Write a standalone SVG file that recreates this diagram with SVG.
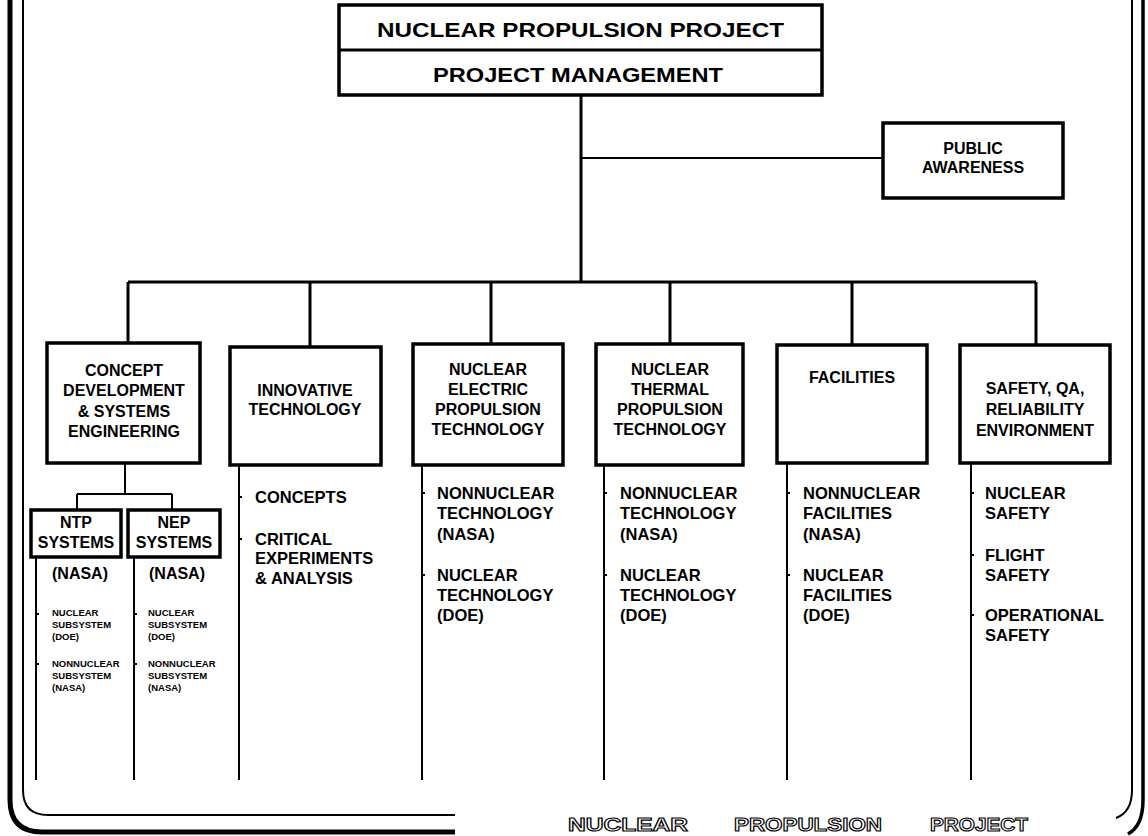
<svg xmlns="http://www.w3.org/2000/svg" width="1148" height="836" viewBox="0 0 1148 836">
<style>
.t{font-family:"Liberation Sans",Arial,Helvetica,sans-serif;font-weight:bold;fill:#000}
.bx{font-size:16px;text-anchor:middle}
.it{font-size:16.5px}
.tiny{font-size:9.5px}
.box{fill:#fff;stroke:#000;stroke-width:3.5}
.ln{fill:none;stroke:#000;stroke-width:3}
.sl{fill:none;stroke:#000;stroke-width:2}
.ft{font-family:"Liberation Sans",Arial,sans-serif;font-weight:bold;font-size:19px;fill:#fff;stroke:#000;stroke-width:1.1}
</style>
<rect width="1148" height="836" fill="#fff"/>
<g id="frame" fill="none" stroke="#000">
<path d="M10 0 V800 Q10 832 42 832 H455" stroke-width="5"/>
<path d="M23 0 V790 Q23 815 48 815 H455" stroke-width="2"/>
<path d="M1132 0 V790 Q1132 812 1116 818" stroke-width="2"/>
<path d="M1143 0 V800 Q1143 826 1128 834" stroke-width="3.5"/>
</g>
<g id="connectors">
<path class="ln" d="M581 95 V282"/>
<path class="sl" d="M581 158 H883"/>
<path class="ln" d="M128 282 H1036 M128 282 V343 M310 282 V347 M491 282 V344 M670 282 V344 M852 282 V345 M1036 282 V345"/>
<path class="sl" d="M125 463 V494 M77 494 H172 M77 494 V510 M172 494 V510"/>
<path class="sl" d="M36 557 V780 M134 557 V780 M239 465 V780 M422 465 V780 M604 465 V780 M787 463 V780 M971 463 V780"/>
<path class="sl" d="M36 614 h3 M36 664 h3 M134 614 h3 M134 664 h3 M239 497 h3 M239 539 h3 M422 493 h3 M422 575 h3 M604 493 h3 M604 575 h3 M787 493 h3 M787 575 h3 M971 493 h3 M971 555 h3 M971 615 h3"/>
</g>
<g id="n-top">
<rect class="box" x="339" y="5" width="483" height="90"/>
<path class="ln" d="M339 50 H822"/>
<text class="t" x="377" y="37" font-size="21" textLength="407" lengthAdjust="spacingAndGlyphs">NUCLEAR PROPULSION PROJECT</text>
<text class="t" x="433" y="82" font-size="21" textLength="290" lengthAdjust="spacingAndGlyphs">PROJECT MANAGEMENT</text>
</g>
<g id="n-public">
<rect class="box" x="883" y="123" width="180" height="75" stroke-width="3"/>
<text class="t bx" x="973" y="154" font-size="15">PUBLIC</text>
<text class="t bx" x="973" y="173" font-size="15">AWARENESS</text>
</g>
<g id="n-concept">
<rect class="box" x="47" y="343" width="153" height="120"/>
<text class="t bx" x="124" y="376">CONCEPT</text>
<text class="t bx" x="124" y="396">DEVELOPMENT</text>
<text class="t bx" x="124" y="417">&amp; SYSTEMS</text>
<text class="t bx" x="124" y="437">ENGINEERING</text>
</g>
<g id="n-ntp">
<rect class="box" x="31" y="510" width="90" height="47" stroke-width="3"/>
<text class="t bx" x="76" y="528" font-size="16.5">NTP</text>
<text class="t bx" x="76" y="548" font-size="16.5">SYSTEMS</text>
<text class="t bx" x="80" y="579" font-size="16.5">(NASA)</text>
<text class="t tiny" x="52" y="616">NUCLEAR</text>
<text class="t tiny" x="52" y="628">SUBSYSTEM</text>
<text class="t tiny" x="52" y="640">(DOE)</text>
<text class="t tiny" x="52" y="667">NONNUCLEAR</text>
<text class="t tiny" x="52" y="679">SUBSYSTEM</text>
<text class="t tiny" x="52" y="691">(NASA)</text>
</g>
<g id="n-nep">
<rect class="box" x="128" y="510" width="92" height="47" stroke-width="3"/>
<text class="t bx" x="174" y="528" font-size="16.5">NEP</text>
<text class="t bx" x="174" y="548" font-size="16.5">SYSTEMS</text>
<text class="t bx" x="177" y="579" font-size="16.5">(NASA)</text>
<text class="t tiny" x="148" y="616">NUCLEAR</text>
<text class="t tiny" x="148" y="628">SUBSYSTEM</text>
<text class="t tiny" x="148" y="640">(DOE)</text>
<text class="t tiny" x="148" y="667">NONNUCLEAR</text>
<text class="t tiny" x="148" y="679">SUBSYSTEM</text>
<text class="t tiny" x="148" y="691">(NASA)</text>
</g>
<g id="n-innovative">
<rect class="box" x="230" y="347" width="151" height="118"/>
<text class="t bx" x="305" y="396">INNOVATIVE</text>
<text class="t bx" x="305" y="415">TECHNOLOGY</text>
<text class="t it" x="255" y="503">CONCEPTS</text>
<text class="t it" x="255" y="545">CRITICAL</text>
<text class="t it" x="255" y="564">EXPERIMENTS</text>
<text class="t it" x="255" y="584">&amp; ANALYSIS</text>
</g>
<g id="n-nep-tech">
<rect class="box" x="413" y="344" width="150" height="121"/>
<text class="t bx" x="488" y="375">NUCLEAR</text>
<text class="t bx" x="488" y="395">ELECTRIC</text>
<text class="t bx" x="488" y="415">PROPULSION</text>
<text class="t bx" x="488" y="435">TECHNOLOGY</text>
<text class="t it" x="437" y="499">NONNUCLEAR</text>
<text class="t it" x="437" y="519">TECHNOLOGY</text>
<text class="t it" x="437" y="540">(NASA)</text>
<text class="t it" x="437" y="581">NUCLEAR</text>
<text class="t it" x="437" y="601">TECHNOLOGY</text>
<text class="t it" x="437" y="621">(DOE)</text>
</g>
<g id="n-ntp-tech">
<rect class="box" x="596" y="344" width="147" height="121"/>
<text class="t bx" x="670" y="375">NUCLEAR</text>
<text class="t bx" x="670" y="395">THERMAL</text>
<text class="t bx" x="670" y="415">PROPULSION</text>
<text class="t bx" x="670" y="435">TECHNOLOGY</text>
<text class="t it" x="620" y="499">NONNUCLEAR</text>
<text class="t it" x="620" y="519">TECHNOLOGY</text>
<text class="t it" x="620" y="540">(NASA)</text>
<text class="t it" x="620" y="581">NUCLEAR</text>
<text class="t it" x="620" y="601">TECHNOLOGY</text>
<text class="t it" x="620" y="621">(DOE)</text>
</g>
<g id="n-facilities">
<rect class="box" x="777" y="345" width="150" height="118"/>
<text class="t bx" x="852" y="383">FACILITIES</text>
<text class="t it" x="803" y="499">NONNUCLEAR</text>
<text class="t it" x="803" y="519">FACILITIES</text>
<text class="t it" x="803" y="540">(NASA)</text>
<text class="t it" x="803" y="581">NUCLEAR</text>
<text class="t it" x="803" y="601">FACILITIES</text>
<text class="t it" x="803" y="621">(DOE)</text>
</g>
<g id="n-safety">
<rect class="box" x="960" y="345" width="150" height="118"/>
<text class="t bx" x="1035" y="394">SAFETY, QA,</text>
<text class="t bx" x="1035" y="415">RELIABILITY</text>
<text class="t bx" x="1035" y="436">ENVIRONMENT</text>
<text class="t it" x="985" y="499">NUCLEAR</text>
<text class="t it" x="985" y="519">SAFETY</text>
<text class="t it" x="985" y="561">FLIGHT</text>
<text class="t it" x="985" y="581">SAFETY</text>
<text class="t it" x="985" y="621">OPERATIONAL</text>
<text class="t it" x="985" y="641">SAFETY</text>
</g>
<g id="footer">
<text class="ft" x="568" y="831" textLength="120" lengthAdjust="spacingAndGlyphs">NUCLEAR</text>
<text class="ft" x="734" y="831" textLength="148" lengthAdjust="spacingAndGlyphs">PROPULSION</text>
<text class="ft" x="930" y="831" textLength="98" lengthAdjust="spacingAndGlyphs">PROJECT</text>
</g>
</svg>
